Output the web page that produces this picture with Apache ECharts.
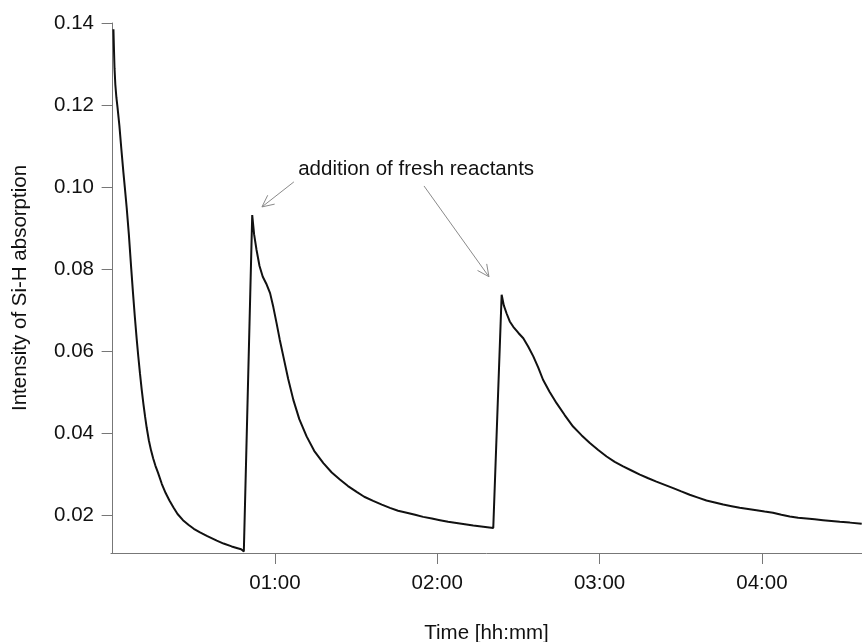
<!DOCTYPE html>
<html>
<head>
<meta charset="utf-8">
<script src="https://cdn.jsdelivr.net/npm/echarts@6/dist/echarts.min.js"></script>
<style>
  html, body { margin: 0; padding: 0; background: #fff; }
  #chart { width: 862px; height: 642px; }
</style>
</head>
<body>
<div id="chart"></div>
<script>
// Elapsed time in minutes
const timeMin = [
  0.3, 0.5, 0.7, 1.0, 1.4, 1.8, 2.5, 3.2, 4.0, 4.5, 5.2, 6.0, 6.9, 7.5, 8.2, 8.9, 9.5,
  10.1, 10.75, 11.4, 12.0, 12.6, 13.4, 14.2, 15.0, 15.8, 16.8, 18.2, 19.6, 21.0, 22.5, 24.0,
  26.0, 28.0, 30.0, 32.3, 35.0, 38.5, 41.0, 44.0, 46.5, 47.5, 48.0, 48.5,
  51.6, 52.3, 53.2, 54.3, 55.5, 56.8, 58.2, 59.4, 60.6, 61.8, 63.1, 64.9, 66.8,
  69.0, 71.7, 74.5, 77.9, 81.0, 84.0, 87.0, 90.2, 93.0, 96.3, 99.5, 102.5, 105.5,
  108.7, 111.8, 114.8, 118.0, 121.0, 124.0, 127.1, 130.2, 133.3, 137.0, 140.7,
  143.8, 144.6, 145.6, 146.8, 148.1, 150.0, 151.8, 153.6, 155.5, 157.3, 159.1,
  161.5, 164.1, 167.1, 170.2, 173.3, 176.4, 179.5, 182.6, 185.6, 188.7, 191.8,
  194.9, 198.0, 201.0, 204.1, 207.2, 210.2, 213.3, 216.4, 219.5, 222.6, 225.7,
  228.8, 231.8, 234.9, 238.0, 241.0, 244.1, 247.2, 250.3, 253.4, 256.5, 259.5,
  262.6, 265.7, 268.8, 272.5, 276.9
];

// Si-H absorption intensity at each time
const intensity = [
  0.1385, 0.1335, 0.1290, 0.1250, 0.1218, 0.1195, 0.1150, 0.1095, 0.1035, 0.1000, 0.0950,
  0.0885, 0.0800, 0.0745, 0.0685, 0.0630, 0.0587, 0.0547, 0.0507, 0.0471, 0.0441,
  0.0414, 0.0383, 0.0359, 0.0339, 0.0322, 0.0304, 0.0277, 0.0255, 0.0237, 0.0220, 0.0204,
  0.0189, 0.0178, 0.0168, 0.0159, 0.0150, 0.0139, 0.0132, 0.0125, 0.0120, 0.0118,
  0.0119, 0.0113,
  0.0932, 0.0885, 0.0847, 0.0808, 0.0782, 0.0765, 0.0742, 0.0708, 0.0669, 0.0628,
  0.0588, 0.0533, 0.0482, 0.0435, 0.0393, 0.0358, 0.0328, 0.0305, 0.0288, 0.0272,
  0.0258, 0.0246, 0.0236, 0.0227, 0.0219, 0.0212, 0.0207, 0.0202, 0.0197, 0.0193,
  0.0189, 0.0185, 0.0182, 0.0179, 0.0176, 0.0173, 0.0170,
  0.0738, 0.0712, 0.0693, 0.0673, 0.0660, 0.0645, 0.0632, 0.0612, 0.0588, 0.0561,
  0.0531, 0.0502, 0.0474, 0.0445, 0.0417, 0.0396, 0.0377, 0.0360, 0.0344, 0.0331,
  0.0320, 0.0310, 0.0300, 0.0291, 0.0283, 0.0275, 0.0267, 0.0259, 0.0251, 0.0244,
  0.0237, 0.0232, 0.0227, 0.0223, 0.0219, 0.0216, 0.0213, 0.0210, 0.0207, 0.0202,
  0.0198, 0.0195, 0.0193, 0.0191, 0.0189, 0.0187, 0.0185, 0.0183, 0.0180
];

// Axis ticks
const xTickMinutes = [60, 120, 180, 240];
const yTickValues = [0.02, 0.04, 0.06, 0.08, 0.10, 0.12, 0.14];

// Annotation: text anchor and arrows [fromTime, fromValue, toTime, toValue]
const noteText = 'addition of fresh reactants';
const noteAnchor = [68.6, 0.1044];
const arrowStart = [[67.0, 0.1013], [115.1, 0.1003]];
const arrowEnd = [[55.2, 0.0952], [139.1, 0.0782]];

const FONT = '"Liberation Sans", Arial, sans-serif';
const FS = 20.5;
const AXIS_GREY = '#777777';

const pad2 = n => String(n).padStart(2, '0');
const hhmm = m => pad2(Math.floor(m / 60)) + ':' + pad2(Math.round(m % 60));

const lineData = timeMin.map((t, i) => [t, intensity[i]]);
const arrowData = arrowStart.map((s, i) => [s[0], s[1], arrowEnd[i][0], arrowEnd[i][1]]);

const chart = echarts.init(document.getElementById('chart'), null, { renderer: 'canvas' });

chart.setOption({
  animation: false,
  backgroundColor: '#ffffff',
  grid: { left: 111, right: 0, top: 23, bottom: 89, containLabel: false, outerBoundsMode: 'none' },
  xAxis: {
    type: 'value',
    min: -0.6,
    max: 277,
    name: 'Time [hh:mm]',
    nameLocation: 'middle',
    nameGap: 70,
    nameTextStyle: { fontFamily: FONT, fontSize: FS, color: '#111' },
    axisLine: { show: true, lineStyle: { color: AXIS_GREY, width: 1 } },
    axisTick: { show: true, length: 11, inside: false, customValues: xTickMinutes,
                lineStyle: { color: AXIS_GREY, width: 1 } },
    axisLabel: { customValues: xTickMinutes, formatter: v => hhmm(v), margin: 20,
                 fontFamily: FONT, fontSize: FS, color: '#111' },
    splitLine: { show: false }
  },
  yAxis: {
    type: 'value',
    min: 0.0109,
    max: 0.14,
    name: 'Intensity of Si-H absorption',
    nameLocation: 'middle',
    nameRotate: 90,
    nameGap: 80,
    nameTextStyle: { fontFamily: FONT, fontSize: FS, color: '#111' },
    axisLine: { show: true, lineStyle: { color: AXIS_GREY, width: 1 } },
    axisTick: { show: true, length: 11, inside: false, customValues: yTickValues,
                lineStyle: { color: AXIS_GREY, width: 1 } },
    axisLabel: { customValues: yTickValues, formatter: v => v.toFixed(2), margin: 17,
                 fontFamily: FONT, fontSize: FS, color: '#111' },
    splitLine: { show: false }
  },
  series: [
    {
      type: 'line',
      data: lineData,
      showSymbol: false,
      symbol: 'none',
      smooth: false,
      lineStyle: { color: '#111111', width: 2 },
      silent: true,
      z: 3
    },
    {
      // Annotation arrows with open arrowheads
      type: 'custom',
      data: arrowData,
      encode: { x: [0, 2], y: [1, 3] },
      silent: true,
      clip: false,
      z: 4,
      renderItem: (params, api) => {
        const p0 = api.coord([api.value(0), api.value(1)]);
        const p1 = api.coord([api.value(2), api.value(3)]);
        const ang = Math.atan2(p1[1] - p0[1], p1[0] - p0[0]);
        const L = 13, spread = Math.PI / 7;
        const w1 = [p1[0] - L * Math.cos(ang - spread), p1[1] - L * Math.sin(ang - spread)];
        const w2 = [p1[0] - L * Math.cos(ang + spread), p1[1] - L * Math.sin(ang + spread)];
        const style = { stroke: '#8a8a8a', lineWidth: 1, fill: null };
        return {
          type: 'group',
          children: [
            { type: 'line', shape: { x1: p0[0], y1: p0[1], x2: p1[0], y2: p1[1] }, style },
            { type: 'polyline', shape: { points: [w1, p1, w2] }, style }
          ]
        };
      }
    },
    {
      // Annotation text
      type: 'custom',
      data: [noteAnchor],
      silent: true,
      clip: false,
      z: 4,
      renderItem: (params, api) => {
        const p = api.coord([api.value(0), api.value(1)]);
        return {
          type: 'text',
          x: p[0],
          y: p[1],
          style: {
            text: noteText,
            fontFamily: FONT,
            fontSize: FS,
            fill: '#111',
            align: 'left',
            verticalAlign: 'middle'
          }
        };
      }
    }
  ]
});
</script>
</body>
</html>
